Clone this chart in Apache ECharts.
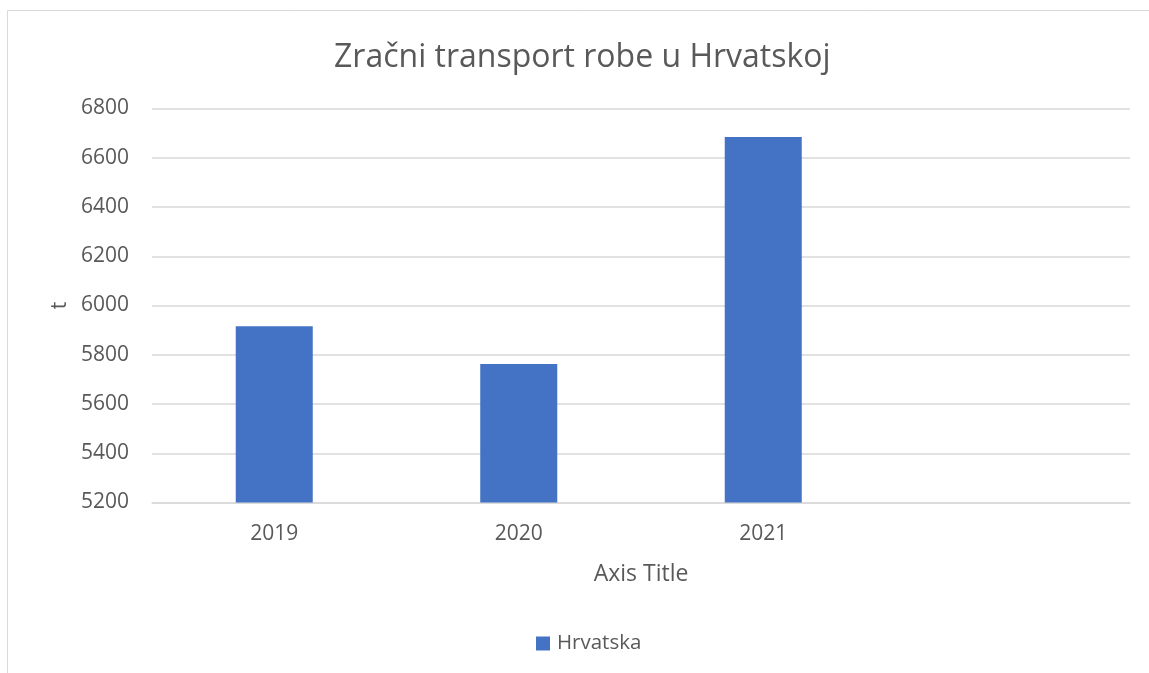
<!DOCTYPE html>
<html>
<head>
<meta charset="utf-8">
<script src="https://cdn.jsdelivr.net/npm/echarts@6/dist/echarts.min.js"></script>
<style>
  html, body { margin: 0; padding: 0; background: #fff; overflow: hidden; }
  #chart { width: 1149px; height: 673px; }
</style>
</head>
<body>
<div id="chart"></div>
<script>
// data
var years = ["2019", "2020", "2021", ""];
var hrvatska = [5916, 5762, 6684, null];
var yMin = 5200, yMax = 6800, yStep = 200;

var textColor = "#595959";
var font = "'Open Sans', 'Noto Sans', sans-serif";

var chart = echarts.init(document.getElementById("chart"));
var option = {
  animation: false,
  textStyle: { fontFamily: font },
  title: {
    text: "Zračni transport robe u Hrvatskoj",
    left: 329,
    top: 37,
    textStyle: { fontSize: 32, fontWeight: "normal", color: textColor, fontFamily: font }
  },
  graphic: [{
    type: "rect",
    shape: { x: 7.5, y: 10.5, width: 1200, height: 700 },
    style: { fill: "none", stroke: "#d9d9d9", lineWidth: 1 },
    silent: true
  }],
  legend: {
    bottom: 14,
    left: 531,
    itemWidth: 14,
    itemHeight: 14,
    itemGap: 6,
    icon: "rect",
    textStyle: { fontSize: 20.5, color: textColor, fontFamily: font, padding: [0, 0, 0, 2] },
    data: ["Hrvatska"]
  },
  grid: { left: 152, right: 19, top: 108.5, bottom: 170.5 },
  xAxis: {
    type: "category",
    data: years,
    name: "Axis Title",
    nameLocation: "middle",
    nameGap: 60,
    nameTextStyle: { fontSize: 23, color: textColor },
    axisTick: { show: false },
    axisLine: { lineStyle: { color: "#d9d9d9", width: 1.5 } },
    axisLabel: { fontSize: 21, color: textColor, margin: 21 }
  },
  yAxis: {
    type: "value",
    min: yMin,
    max: yMax,
    interval: yStep,
    name: "t",
    nameLocation: "middle",
    nameGap: 81,
    nameRotate: 90,
    nameTextStyle: { fontSize: 21, color: textColor },
    axisLine: { show: false },
    axisTick: { show: false },
    axisLabel: {
      fontSize: 21,
      color: textColor,
      margin: 23,
      formatter: function (v) { return String(v); }
    },
    splitLine: { lineStyle: { color: "#d9d9d9", width: 1.5 } }
  },
  series: [{
    name: "Hrvatska",
    type: "bar",
    data: hrvatska,
    barWidth: "31.5%",
    itemStyle: { color: "#4472c4" }
  }]
};
chart.setOption(option);
</script>
</body>
</html>
